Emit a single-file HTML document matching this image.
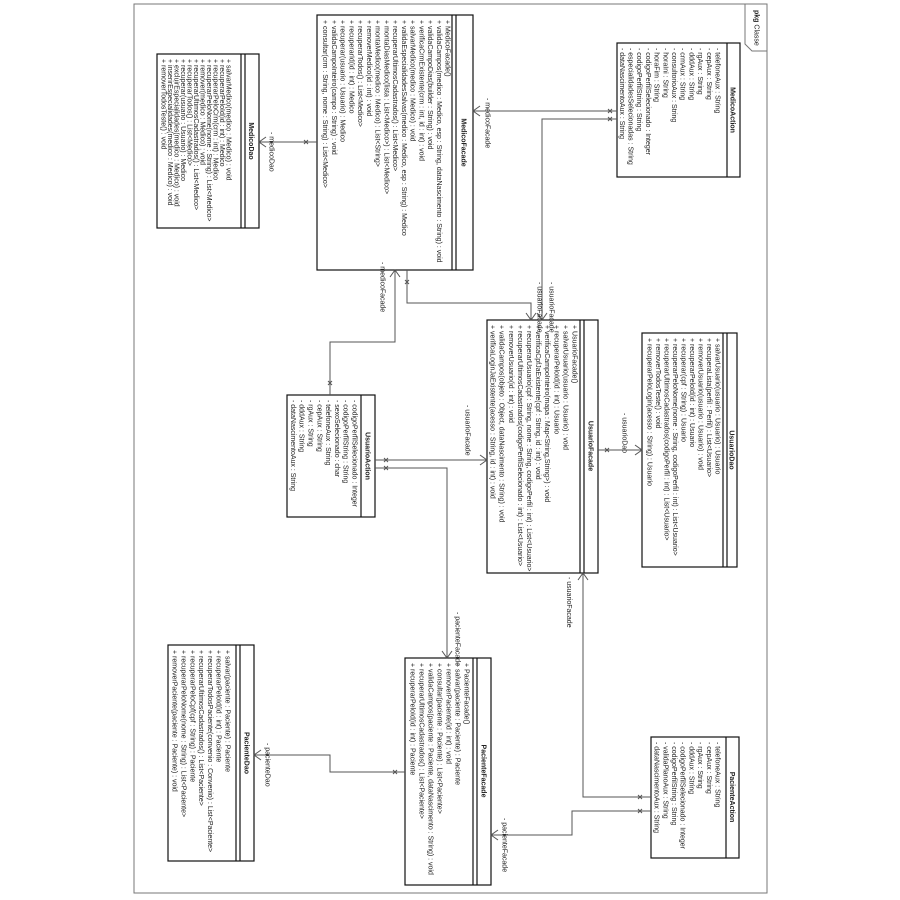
<!DOCTYPE html>
<html><head><meta charset="utf-8"><style>
html,body{margin:0;padding:0;background:#fff;}
svg{display:block;}
text{font-family:"Liberation Sans",sans-serif;font-size:7px;fill:#222;}
.t{font-weight:bold;text-anchor:middle;}
.b{fill:none;stroke:#111;stroke-width:1.2;}
.c{fill:none;stroke:#555;stroke-width:1;}
</style></head><body>
<svg width="900" height="900" viewBox="0 0 900 900" xmlns="http://www.w3.org/2000/svg">
<rect width="900" height="900" fill="#fff"/>
<!-- frame -->
<rect x="134" y="4" width="633" height="889" fill="none" stroke="#777" stroke-width="1"/>
<polyline points="745,4 745,44 752,51 767,51" fill="none" stroke="#777"/>
<text transform="translate(754.5,10) rotate(90)"><tspan font-weight="bold">pkg</tspan> Classe</text>

<!-- MedicoFacade -->
<rect class="b" x="317" y="15" width="156" height="255"/>
<line class="b" x1="452" y1="15" x2="452" y2="270"/><line class="b" x1="456" y1="15" x2="456" y2="270"/>
<text class="t" transform="translate(461.5,142.5) rotate(90)">MedicoFacade</text>
<g>
<text transform="translate(445.5,20) rotate(90)">+ MedicoFacade()</text>
<text transform="translate(436.8,20) rotate(90)">+ validaCampos(medico : Medico, esp : String, dataNascimento : String) : void</text>
<text transform="translate(428,20) rotate(90)">+ validaCampoDias(builder : String) : void</text>
<text transform="translate(419.3,20) rotate(90)">+ verificaCrmExistente(crm : int, id : int) : void</text>
<text transform="translate(410.5,20) rotate(90)">+ salvarMedico(medico : Medico) : void</text>
<text transform="translate(401.8,20) rotate(90)">+ validaEspecialidadesSalvas(medico : Medico, esp : String) : Medico</text>
<text transform="translate(393,20) rotate(90)">+ recuperarUltimosCadastrados() : List&lt;Medico&gt;</text>
<text transform="translate(384.3,20) rotate(90)">+ montaDiasMedico(lista : List&lt;Medico&gt;) : List&lt;Medico&gt;</text>
<text transform="translate(375.5,20) rotate(90)">+ montaMedico(medico : Medico) : List&lt;String&gt;</text>
<text transform="translate(366.8,20) rotate(90)">+ removerMedico(id : int) : void</text>
<text transform="translate(358,20) rotate(90)">+ recuperarTodos() : List&lt;Medico&gt;</text>
<text transform="translate(349.3,20) rotate(90)">+ recuperarId(id : int) : Medico</text>
<text transform="translate(340.5,20) rotate(90)">+ recuperar(usuario : Usuario) : Medico</text>
<text transform="translate(331.8,20) rotate(90)">+ validaCampoInteiro(campo : String) : void</text>
<text transform="translate(323,20) rotate(90)">+ consultar(crm : String, nome : String) : List&lt;Medico&gt;</text>
</g>

<!-- MedicoAction -->
<rect class="b" x="617" y="43" width="123" height="134"/>
<line class="b" x1="727" y1="43" x2="727" y2="177"/>
<text class="t" transform="translate(730.5,110) rotate(90)">MedicoAction</text>
<text transform="translate(715.5,48) rotate(90)">- telefoneAux : String</text>
<text transform="translate(706.8,48) rotate(90)">- cepAux : String</text>
<text transform="translate(698.1,48) rotate(90)">- rgAux : String</text>
<text transform="translate(689.4,48) rotate(90)">- dddAux : String</text>
<text transform="translate(680.7,48) rotate(90)">- crmAux : String</text>
<text transform="translate(672,48) rotate(90)">- consultorioAux : String</text>
<text transform="translate(663.3,48) rotate(90)">- horaIni : String</text>
<text transform="translate(654.6,48) rotate(90)">- horaFim : String</text>
<text transform="translate(645.9,48) rotate(90)">- codigoPerfilSelecionado : Integer</text>
<text transform="translate(637.2,48) rotate(90)">- codigoPerfilString : String</text>
<text transform="translate(628.5,48) rotate(90)">- especialidadesSelecionadas : String</text>
<text transform="translate(619.8,48) rotate(90)">- dataNascimentoAux : String</text>

<!-- MedicoDao -->
<rect class="b" x="157" y="54" width="102" height="174"/>
<line class="b" x1="241" y1="54" x2="241" y2="228"/><line class="b" x1="245" y1="54" x2="245" y2="228"/>
<text class="t" transform="translate(249,141) rotate(90)">MedicoDao</text>
<text transform="translate(226.5,59) rotate(90)">+ salvarMedico(medico : Medico) : void</text>
<text transform="translate(220,59) rotate(90)">+ recuperarPeloId(id : int) : Medico</text>
<text transform="translate(213.5,59) rotate(90)">+ recuperarPeloCrm(crm : int) : Medico</text>
<text transform="translate(207,59) rotate(90)">+ recuperarPeloNome(nome : String) : List&lt;Medico&gt;</text>
<text transform="translate(200.5,59) rotate(90)">+ remover(medico : Medico) : void</text>
<text transform="translate(194,59) rotate(90)">+ recuperarUltimosCadastrados() : List&lt;Medico&gt;</text>
<text transform="translate(187.5,59) rotate(90)">+ recuperarTodos() : List&lt;Medico&gt;</text>
<text transform="translate(181,59) rotate(90)">+ recuperar(usuario : Usuario) : Medico</text>
<text transform="translate(174.5,59) rotate(90)">+ excluirEspecialidades(medico : Medico) : void</text>
<text transform="translate(168,59) rotate(90)">+ inserirEspecialidades(medico : Medico) : void</text>
<text transform="translate(161.5,59) rotate(90)">+ removerTodosTeste() : void</text>

<!-- UsuarioFacade -->
<rect class="b" x="487" y="320" width="111" height="253"/>
<line class="b" x1="580" y1="320" x2="580" y2="573"/><line class="b" x1="584" y1="320" x2="584" y2="573"/>
<text class="t" transform="translate(588.5,446) rotate(90)">UsuarioFacade</text>
<text transform="translate(572.5,325) rotate(90)">+ UsuarioFacade()</text>
<text transform="translate(563.4,325) rotate(90)">+ salvarUsuario(usuario : Usuario) : void</text>
<text transform="translate(554.3,325) rotate(90)">+ recuperarPeloId(id : int) : Usuario</text>
<text transform="translate(545.2,325) rotate(90)">+ verificaCampoInteiro(mapa : Map&lt;String,String&gt;) : void</text>
<text transform="translate(536.1,325) rotate(90)">+ verificaCpfJaExistente(cpf : String, id : int) : void</text>
<text transform="translate(527,325) rotate(90)">+ recuperarUsuario(cpf : String, nome : String, codigoPerfil : int) : List&lt;Usuario&gt;</text>
<text transform="translate(517.9,325) rotate(90)">+ recuperarUltimosCadastrados(codigoPerfilSelecionado : int) : List&lt;Usuario&gt;</text>
<text transform="translate(508.8,325) rotate(90)">+ removerUsuario(id : int) : void</text>
<text transform="translate(499.7,325) rotate(90)">+ validaCampos(objeto : Object, dataNascimento : String) : void</text>
<text transform="translate(490.6,325) rotate(90)">+ verificaLoginJaExistente(acesso : String, id : int) : void</text>

<!-- UsuarioDao -->
<rect class="b" x="642" y="333" width="95" height="234"/>
<line class="b" x1="723" y1="333" x2="723" y2="567"/><line class="b" x1="727" y1="333" x2="727" y2="567"/>
<text class="t" transform="translate(729.5,450) rotate(90)">UsuarioDao</text>
<text transform="translate(715.5,338) rotate(90)">+ salvarUsuario(usuario : Usuario) : Usuario</text>
<text transform="translate(707,338) rotate(90)">+ recuperaLista(perfil : Perfil) : List&lt;Usuario&gt;</text>
<text transform="translate(698.5,338) rotate(90)">+ removerUsuario(usuario : Usuario) : void</text>
<text transform="translate(690,338) rotate(90)">+ recuperarPeloId(id : int) : Usuario</text>
<text transform="translate(681.5,338) rotate(90)">+ recuperar(cpf : String) : Usuario</text>
<text transform="translate(673,338) rotate(90)">+ recuperarPeloNome(nome : String, codigoPerfil : int) : List&lt;Usuario&gt;</text>
<text transform="translate(664.5,338) rotate(90)">+ recuperarUltimosCadastrados(codigoPerfil : int) : List&lt;Usuario&gt;</text>
<text transform="translate(656,338) rotate(90)">+ removerTodosTeste() : void</text>
<text transform="translate(647.5,338) rotate(90)">+ recuperarPeloLogin(acesso : String) : Usuario</text>

<!-- UsuarioAction -->
<rect class="b" x="287" y="395" width="88" height="122"/>
<line class="b" x1="361" y1="395" x2="361" y2="517"/>
<text class="t" transform="translate(365.5,456) rotate(90)">UsuarioAction</text>
<text transform="translate(352.5,400) rotate(90)">- codigoPerfilSelecionado : Integer</text>
<text transform="translate(343.7,400) rotate(90)">- codigoPerfilString : String</text>
<text transform="translate(334.9,400) rotate(90)">- sexoSelecionado : char</text>
<text transform="translate(326.1,400) rotate(90)">- telefoneAux : String</text>
<text transform="translate(317.3,400) rotate(90)">- cepAux : String</text>
<text transform="translate(308.5,400) rotate(90)">- rgAux : String</text>
<text transform="translate(299.7,400) rotate(90)">- dddAux : String</text>
<text transform="translate(290.9,400) rotate(90)">- dataNascimentoAux : String</text>

<!-- PacienteFacade -->
<rect class="b" x="405" y="658" width="86" height="227"/>
<line class="b" x1="473" y1="658" x2="473" y2="885"/><line class="b" x1="477" y1="658" x2="477" y2="885"/>
<text class="t" transform="translate(481.5,771) rotate(90)">PacienteFacade</text>
<text transform="translate(464.5,663) rotate(90)">+ PacienteFacade()</text>
<text transform="translate(455.5,663) rotate(90)">+ salvar(paciente : Paciente) : Paciente</text>
<text transform="translate(446.5,663) rotate(90)">+ removerPaciente(id : int) : void</text>
<text transform="translate(437.5,663) rotate(90)">+ consultar(paciente : Paciente) : List&lt;Paciente&gt;</text>
<text transform="translate(428.5,663) rotate(90)">+ validaCampos(paciente : Paciente, dataNascimento : String) : void</text>
<text transform="translate(419.5,663) rotate(90)">+ recuperarUltimosCadastrados() : List&lt;Paciente&gt;</text>
<text transform="translate(410.5,663) rotate(90)">+ recuperarPeloId(id : int) : Paciente</text>

<!-- PacienteDao -->
<rect class="b" x="168" y="645" width="86" height="216"/>
<line class="b" x1="236" y1="645" x2="236" y2="861"/><line class="b" x1="240" y1="645" x2="240" y2="861"/>
<text class="t" transform="translate(244.5,753) rotate(90)">PacienteDao</text>
<text transform="translate(225.5,650) rotate(90)">+ salvar(paciente : Paciente) : Paciente</text>
<text transform="translate(216.7,650) rotate(90)">+ recuperarPeloId(id : int) : Paciente</text>
<text transform="translate(207.9,650) rotate(90)">+ recuperarTodosPaciente(convenio : Convenio) : List&lt;Paciente&gt;</text>
<text transform="translate(199.1,650) rotate(90)">+ recuperarUltimosCadastrados() : List&lt;Paciente&gt;</text>
<text transform="translate(190.3,650) rotate(90)">+ recuperarPeloCpf(cpf : String) : Paciente</text>
<text transform="translate(181.5,650) rotate(90)">+ recuperarPeloNome(nome : String) : List&lt;Paciente&gt;</text>
<text transform="translate(172.7,650) rotate(90)">+ removerPaciente(paciente : Paciente) : void</text>

<!-- PacienteAction -->
<rect class="b" x="651" y="737" width="88" height="121"/>
<line class="b" x1="726" y1="737" x2="726" y2="858"/>
<text class="t" transform="translate(730,797) rotate(90)">PacienteAction</text>
<text transform="translate(715.5,742) rotate(90)">- telefoneAux : String</text>
<text transform="translate(706.8,742) rotate(90)">- cepAux : String</text>
<text transform="translate(698.1,742) rotate(90)">- rgAux : String</text>
<text transform="translate(689.4,742) rotate(90)">- dddAux : String</text>
<text transform="translate(680.7,742) rotate(90)">- codigoPerfilSelecionado : Integer</text>
<text transform="translate(672,742) rotate(90)">- codigoPerfilString : String</text>
<text transform="translate(663.3,742) rotate(90)">- validaPlanoAux : String</text>
<text transform="translate(654.6,742) rotate(90)">- dataNascimentoAux : String</text>

<!-- connectors -->
<g class="c">
<!-- 1 MedicoFacade -> MedicoDao -->
<line x1="317" y1="142" x2="259" y2="142"/><polyline points="266,137 259,142 266,147"/>
<path d="M304,140l4,4M308,140l-4,4"/>
<!-- 2 MedicoAction -> MedicoFacade -->
<line x1="617" y1="111" x2="473" y2="111"/><polyline points="480,106 473,111 480,116"/>
<path d="M608,109l4,4M612,109l-4,4"/>
<!-- 3 MedicoAction -> UsuarioFacade -->
<polyline points="617,119 542,119 542,320"/><polyline points="537,313 542,320 547,313"/>
<path d="M608,117l4,4M612,117l-4,4"/>
<!-- 4 MedicoFacade -> UsuarioFacade -->
<polyline points="407,270 407,303 531,303 531,320"/><polyline points="526,313 531,320 536,313"/>
<path d="M405,280l4,4M409,280l-4,4"/>
<!-- 5 UsuarioAction -> MedicoFacade -->
<polyline points="330,395 330,342 395,342 395,270"/><polyline points="390,277 395,270 400,277"/>
<path d="M328,381l4,4M332,381l-4,4"/>
<!-- 6 UsuarioAction -> UsuarioFacade -->
<line x1="375" y1="460" x2="487" y2="460"/><polyline points="480,455 487,460 480,465"/>
<path d="M384,458l4,4M388,458l-4,4"/>
<!-- 7 UsuarioAction -> PacienteFacade -->
<polyline points="375,468 447,468 447,658"/><polyline points="442,651 447,658 452,651"/>
<path d="M384,466l4,4M388,466l-4,4"/>
<!-- 8 UsuarioFacade -> UsuarioDao -->
<line x1="598" y1="450" x2="642" y2="450"/><polyline points="635,445 642,450 635,455"/>
<path d="M605,448l4,4M609,448l-4,4"/>
<!-- 9 PacienteFacade -> PacienteDao -->
<polyline points="405,772 330,772 330,755 254,755"/><polyline points="261,750 254,755 261,760"/>
<path d="M393,770l4,4M397,770l-4,4"/>
<!-- 10 PacienteAction -> UsuarioFacade -->
<polyline points="651,797 583,797 583,573"/><polyline points="578,580 583,573 588,580"/>
<path d="M638,795l4,4M642,795l-4,4"/>
<!-- 11 PacienteAction -> PacienteFacade -->
<polyline points="651,811 572,811 572,835 491,835"/><polyline points="498,830 491,835 498,840"/>
<path d="M638,809l4,4M642,809l-4,4"/>
</g>

<!-- connector labels -->
<text transform="translate(269.5,132) rotate(90)">- medicoDao</text>
<text transform="translate(485.5,98) rotate(90)">- medicoFacade</text>
<text transform="translate(537.5,282) rotate(90)">- usuarioFacade</text>
<text transform="translate(549.5,282) rotate(90)">- usuarioFacade</text>
<text transform="translate(380.5,262) rotate(90)">- medicoFacade</text>
<text transform="translate(465.5,405) rotate(90)">- usuarioFacade</text>
<text transform="translate(455.5,612) rotate(90)">- pacienteFacade</text>
<text transform="translate(622.5,413) rotate(90)">- usuarioDao</text>
<text transform="translate(567,577) rotate(90)">- usuarioFacade</text>
<text transform="translate(502.5,818) rotate(90)">- pacienteFacade</text>
<text transform="translate(265.5,743) rotate(90)">- pacienteDao</text>
</svg>
</body></html>
